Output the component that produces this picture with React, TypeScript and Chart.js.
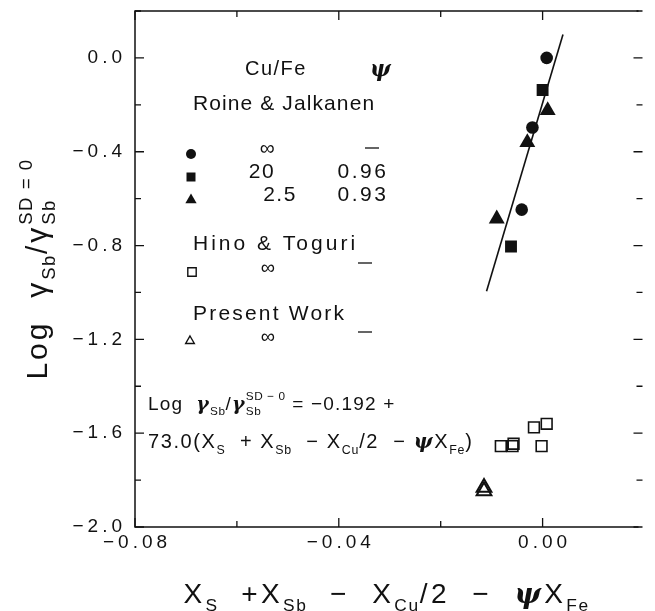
import React, { useEffect, useRef } from "react";
import { Chart, registerables } from "chart.js";
Chart.register(...registerables);

// ---------------- data ----------------
// Roine & Jalkanen, Cu/Fe = ∞ (filled circles)
const roineInfX = [0.0008, -0.002, -0.0041];
const roineInfY = [0.0, -0.297, -0.647];
// Roine & Jalkanen, Cu/Fe = 20, ψ = 0.96 (filled squares)
const roine20X = [0.0, -0.0062];
const roine20Y = [-0.137, -0.804];
// Roine & Jalkanen, Cu/Fe = 2.5, ψ = 0.93 (filled triangles)
const roine25X = [0.001, -0.003, -0.009];
const roine25Y = [-0.224, -0.36, -0.686];
// Hino & Toguri (open squares)
const hinoX = [-0.0082, -0.0059, -0.0057, -0.0017, 0.0008, -0.0002];
const hinoY = [-1.655, -1.655, -1.645, -1.575, -1.56, -1.655];
// Present work (open triangles)
const presentX = [-0.0115, -0.0115];
const presentY = [-1.832, -1.846];
// Fitted line: Log γ = -0.192 + 73.0 (...)
const fitX = [-0.011, 0.004];
const fitY = [-0.995, 0.1];

// axis ranges / tick labels
const xMin = -0.08, xMax = 0.02, xStep = 0.02;
const yMin = -2.0, yMax = 0.2, yStep = 0.2;
const xLabelValues = [-0.08, -0.04, 0.0];
const yLabelValues = [0.0, -0.4, -0.8, -1.2, -1.6, -2.0];

// legend table text
const legendRows = [
  { cuFe: "∞", psi: "—" },
  { cuFe: "20", psi: "0.96" },
  { cuFe: "2.5", psi: "0.93" },
];

const SANS = '"Liberation Sans", Arial, sans-serif';
const SERIF = '"DejaVu Serif", "Liberation Serif", serif';
const INK = "#111";

type Seg = { t: string; k?: "sub" | "sup"; stack?: boolean; f?: string; st?: string };

function fmt(v: number, d: number) {
  const s = Math.abs(v).toFixed(d);
  return (v < -1e-9 ? "−" : "") + s;
}

function drawRich(
  ctx: CanvasRenderingContext2D,
  x: number,
  y: number,
  segs: Seg[],
  size: number,
  ls: number,
  align: "left" | "center"
) {
  const items: any[] = [];
  let cx = 0;
  let prevStart = 0;
  let prevW = 0;
  for (const s of segs) {
    const sz = s.k ? size * 0.62 : size;
    const font = `${s.st || "normal"} ${sz}px ${s.f || SANS}`;
    ctx.font = font;
    (ctx as any).letterSpacing = `${s.k ? ls * 0.5 : ls}px`;
    const w = ctx.measureText(s.t).width;
    let sx = cx;
    if (s.stack) {
      sx = prevStart;
      cx = Math.max(prevStart + prevW, sx + w);
    } else {
      cx = sx + w;
    }
    items.push({ s, sx, sz, font, w });
    prevStart = sx;
    prevW = w;
  }
  const total = cx;
  const x0 = align === "center" ? x - total / 2 : x;
  const base = y + size * 0.36;
  ctx.textAlign = "left";
  ctx.textBaseline = "alphabetic";
  for (const it of items) {
    ctx.font = it.font;
    (ctx as any).letterSpacing = `${it.s.k ? ls * 0.5 : ls}px`;
    let by = base;
    if (it.s.k === "sub") by = base + size * 0.28;
    if (it.s.k === "sup") by = base - size * 0.5;
    ctx.fillText(it.s.t, x0 + it.sx, by);
  }
  (ctx as any).letterSpacing = "0px";
}

function drawMarker(ctx: CanvasRenderingContext2D, style: string, x: number, y: number, r: number, filled: boolean) {
  ctx.save();
  ctx.fillStyle = INK;
  ctx.strokeStyle = INK;
  ctx.lineWidth = 1.4;
  ctx.beginPath();
  if (style === "circle") {
    ctx.arc(x, y, r, 0, Math.PI * 2);
  } else if (style === "rect") {
    ctx.rect(x - r, y - r, 2 * r, 2 * r);
  } else {
    ctx.moveTo(x, y - r);
    ctx.lineTo(x + r * 0.866, y + r * 0.5);
    ctx.lineTo(x - r * 0.866, y + r * 0.5);
    ctx.closePath();
  }
  if (filled) ctx.fill();
  else ctx.stroke();
  ctx.restore();
}

const deco = {
  id: "deco",
  afterDraw(chart: any) {
    const ctx: CanvasRenderingContext2D = chart.ctx;
    const a = chart.chartArea;
    const xs = chart.scales.x;
    const ys = chart.scales.y;
    ctx.save();
    // frame (left, bottom, top; the right edge is not drawn in the original)
    ctx.strokeStyle = INK;
    ctx.lineWidth = 1.5;
    ctx.beginPath();
    ctx.moveTo(a.right - 6, a.top);
    ctx.lineTo(a.left, a.top);
    ctx.lineTo(a.left, a.bottom);
    ctx.lineTo(a.right - 6, a.bottom);
    ctx.stroke();
    // ticks
    ctx.lineWidth = 1.3;
    const isMajor = (v: number, step: number) => Math.abs(v / step - Math.round(v / step)) < 1e-6;
    for (const t of xs.ticks) {
      const px = xs.getPixelForValue(t.value);
      if (px > a.right - 5) continue;
      const len = isMajor(t.value, 0.04) ? 9 : 6;
      ctx.beginPath();
      ctx.moveTo(px, a.bottom);
      ctx.lineTo(px, a.bottom - len);
      ctx.moveTo(px, a.top);
      ctx.lineTo(px, a.top + len);
      ctx.stroke();
    }
    for (const t of ys.ticks) {
      const py = ys.getPixelForValue(t.value);
      const len = isMajor(t.value, 0.4) ? 9 : 6;
      ctx.beginPath();
      ctx.moveTo(a.left, py);
      ctx.lineTo(a.left + len, py);
      ctx.moveTo(a.right - 2, py);
      ctx.lineTo(a.right - 2 - len, py);
      ctx.stroke();
    }
    // tick labels
    ctx.fillStyle = INK;
    ctx.font = `19px ${SANS}`;
    (ctx as any).letterSpacing = "4px";
    ctx.textBaseline = "middle";
    ctx.textAlign = "right";
    for (const v of yLabelValues) {
      ctx.fillText(fmt(v, 1), a.left - 9, ys.getPixelForValue(v));
    }
    ctx.textAlign = "center";
    ctx.textBaseline = "top";
    for (const v of xLabelValues) {
      ctx.fillText(fmt(v, 2), xs.getPixelForValue(v) + 2, a.bottom + 6);
    }
    (ctx as any).letterSpacing = "0px";

    // axis titles
    drawRich(
      ctx,
      (a.left + a.right) / 2 - 3,
      a.bottom + 66,
      [
        { t: "X" }, { t: "S", k: "sub" }, { t: "  +X" }, { t: "Sb", k: "sub" },
        { t: "  −  X" }, { t: "Cu", k: "sub" }, { t: "/2  −  " },
        { t: "ψ", f: SERIF, st: "italic bold" }, { t: "X" }, { t: "Fe", k: "sub" },
      ],
      28, 3.4, "center"
    );
    ctx.save();
    ctx.translate(36, (a.top + a.bottom) / 2);
    ctx.rotate(-Math.PI / 2);
    drawRich(
      ctx, 0, 0,
      [
        { t: "Log  γ" }, { t: "Sb", k: "sub" }, { t: "/γ" }, { t: "Sb", k: "sub" },
        { t: "SD = 0", k: "sup", stack: true },
      ],
      30, 3, "center"
    );
    ctx.restore();

    // legend block (positions relative to plot area)
    const L = a.left;
    const T = a.top;
    drawRich(ctx, L + 110, T + 57, [{ t: "Cu/Fe" }], 20, 1.5, "left");
    drawRich(ctx, L + 235, T + 57, [{ t: "ψ", f: SERIF, st: "italic bold" }], 22, 0, "left");
    drawRich(ctx, L + 58, T + 91, [{ t: "Roine & Jalkanen" }], 21, 1.1, "left");

    const rowMarkerY = [T + 143, T + 166, T + 189];
    const rowTextY = [T + 140, T + 159, T + 182];
    const markerStyles = ["circle", "rect", "triangle"];
    const markerR = [5, 4.5, 6.5];
    const cuX = [L + 133, L + 127, L + 145];
    for (let i = 0; i < 3; i++) {
      drawMarker(ctx, markerStyles[i], L + 56, rowMarkerY[i], markerR[i], true);
      const r = legendRows[i];
      drawRich(ctx, cuX[i], rowTextY[i] - (i === 0 ? 4 : 0), [{ t: r.cuFe }], 21, 1.5, "center");
      if (r.psi === "—") {
        ctx.beginPath();
        ctx.lineWidth = 1.3;
        ctx.moveTo(L + 230, T + 137);
        ctx.lineTo(L + 244, T + 137);
        ctx.stroke();
      } else {
        drawRich(ctx, L + 228, rowTextY[i], [{ t: r.psi }], 21, 2.5, "center");
      }
    }
    drawRich(ctx, L + 58, T + 231, [{ t: "Hino & Toguri" }], 21, 3, "left");
    drawMarker(ctx, "rect", L + 57, T + 261, 4.2, false);
    drawRich(ctx, L + 133, T + 256, [{ t: "∞" }], 20, 0, "center");
    ctx.beginPath();
    ctx.moveTo(L + 223, T + 252);
    ctx.lineTo(L + 237, T + 252);
    ctx.stroke();

    drawRich(ctx, L + 58, T + 301, [{ t: "Present Work" }], 21, 2.2, "left");
    drawMarker(ctx, "triangle", L + 55, T + 330, 5, false);
    drawRich(ctx, L + 133, T + 325, [{ t: "∞" }], 20, 0, "center");
    ctx.beginPath();
    ctx.moveTo(L + 223, T + 321);
    ctx.lineTo(L + 237, T + 321);
    ctx.stroke();

    // regression equation
    drawRich(
      ctx, L + 13, T + 392,
      [
        { t: "Log  " }, { t: "γ", f: SERIF, st: "italic bold" }, { t: "Sb", k: "sub" }, { t: "/" },
        { t: "γ", f: SERIF, st: "italic bold" }, { t: "Sb", k: "sub" }, { t: "SD − 0", k: "sup", stack: true },
        { t: " = −0.192 +" },
      ],
      19, 1.2, "left"
    );
    drawRich(
      ctx, L + 13, T + 430,
      [
        { t: "73.0(X" }, { t: "S", k: "sub" }, { t: "  + X" }, { t: "Sb", k: "sub" },
        { t: "  − X" }, { t: "Cu", k: "sub" }, { t: "/2  − " },
        { t: "ψ", f: SERIF, st: "italic bold" }, { t: "X" }, { t: "Fe", k: "sub" }, { t: ")" },
      ],
      20, 1.6, "left"
    );
    ctx.restore();
  },
};

const pts = (xs: number[], ys: number[]) => xs.map((x, i) => ({ x, y: ys[i] }));

export default function App() {
  const ref = useRef<HTMLCanvasElement | null>(null);
  useEffect(() => {
    if (!ref.current) return;
    const chart = new Chart(ref.current, {
      type: "scatter",
      data: {
        datasets: [
          {
            label: "fit",
            type: "line",
            data: pts(fitX, fitY),
            borderColor: INK,
            borderWidth: 1.6,
            pointRadius: 0,
            showLine: true,
            fill: false,
          } as any,
          {
            label: "Roine ∞",
            data: pts(roineInfX, roineInfY),
            pointStyle: "circle",
            pointRadius: 6.3,
            backgroundColor: INK,
            borderColor: INK,
            borderWidth: 0,
          },
          {
            label: "Roine 20",
            data: pts(roine20X, roine20Y),
            pointStyle: "rect",
            pointRadius: 8.4,
            backgroundColor: INK,
            borderColor: INK,
            borderWidth: 0,
          },
          {
            label: "Roine 2.5",
            data: pts(roine25X, roine25Y),
            pointStyle: "triangle",
            pointRadius: 9.2,
            backgroundColor: INK,
            borderColor: INK,
            borderWidth: 0,
          },
          {
            label: "Hino & Toguri",
            data: pts(hinoX, hinoY),
            pointStyle: "rect",
            pointRadius: 7.6,
            backgroundColor: "rgba(0,0,0,0)",
            borderColor: INK,
            borderWidth: 1.6,
          },
          {
            label: "Present Work",
            data: pts(presentX, presentY),
            pointStyle: "triangle",
            pointRadius: 8.5,
            backgroundColor: "rgba(0,0,0,0)",
            borderColor: INK,
            borderWidth: 2,
          },
        ],
      },
      options: {
        animation: false,
        responsive: false,
        maintainAspectRatio: false,
        layout: { padding: { top: 11, right: 7, left: 0, bottom: 0 } },
        plugins: { legend: { display: false }, tooltip: { enabled: false } },
        scales: {
          x: {
            type: "linear",
            min: xMin,
            max: xMax,
            ticks: { stepSize: xStep, display: false },
            grid: { display: false },
            border: { display: false },
            afterFit: (s: any) => {
              s.height = 84;
            },
          },
          y: {
            type: "linear",
            min: yMin,
            max: yMax,
            ticks: { stepSize: yStep, display: false },
            grid: { display: false },
            border: { display: false },
            afterFit: (s: any) => {
              s.width = 135;
            },
          },
        },
      } as any,
      plugins: [deco],
    });
    return () => chart.destroy();
  }, []);
  return (
    <div style={{ position: "fixed", left: 0, top: 0, width: 655, height: 611, background: "#fff" }}>
      <canvas ref={ref} width={655} height={611} style={{ display: "block", width: 655, height: 611 }} />
    </div>
  );
}
